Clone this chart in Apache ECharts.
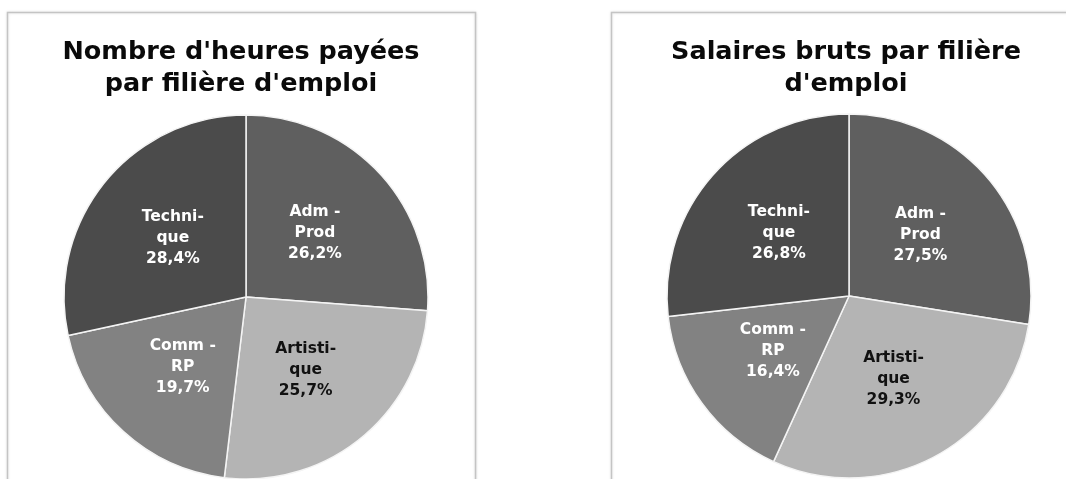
<!DOCTYPE html>
<html>
<head>
<meta charset="utf-8">
<script src="https://cdn.jsdelivr.net/npm/echarts@6/dist/echarts.min.js"></script>
<style>
  html, body { margin: 0; padding: 0; background: #fff; }
  #chart { width: 1066px; height: 479px; }
</style>
</head>
<body>
<div id="chart"></div>
<script>
// filières (ordre horaire depuis midi)
const categories = ["Adm - Prod", "Artistique", "Comm - RP", "Technique"];
const labelNames = ["Adm -\nProd", "Artisti-\nque", "Comm -\nRP", "Techni-\nque"];
const hoursValues = [26.2, 25.7, 19.7, 28.4];
const salaryValues = [27.5, 29.3, 16.4, 26.8];
const titles = ["Nombre d'heures payées\npar filière d'emploi", "Salaires bruts par filière\nd'emploi"];

const sliceColors = ["#5f5f5f", "#b4b4b4", "#828282", "#4b4b4b"];
const labelColors = ["#ffffff", "#111111", "#ffffff", "#ffffff"];
const fontFamily = "DejaVu Sans, Verdana, sans-serif";

const myChart = echarts.init(document.getElementById("chart"));

const buildData = values => values.map((v, i) => ({
	name: categories[i],
	value: v,
	itemStyle: { color: sliceColors[i] },
	label: {
		color: labelColors[i],
		formatter: labelNames[i] + "\n" + v.toFixed(1).replace(".", ",") + "%"
	}
}));

const makePie = (values, center) => ({
	type: "pie",
	radius: 182,
	center: center,
	startAngle: 90,
	clockwise: true,
	silent: true,
	animation: false,
	itemStyle: { borderColor: "#f4f4f4", borderWidth: 1.5 },
	label: {
		show: true,
		position: "inside",
		fontFamily: fontFamily,
		fontWeight: "bold",
		fontSize: 15.5,
		lineHeight: 21,
		align: "center"
	},
	labelLine: { show: false },
	data: buildData(values)
});

const titleStyle = { fontFamily: fontFamily, fontWeight: "bold", fontSize: 25.5, lineHeight: 32, color: "#0a0a0a" };

const option = {
	backgroundColor: "#ffffff",
	title: [
		{ text: titles[0], left: 236, top: 31, textAlign: "center", textStyle: titleStyle },
		{ text: titles[1], left: 841, top: 31, textAlign: "center", textStyle: titleStyle }
	],
	graphic: [
		{
			type: "rect",
			z: -10,
			shape: { x: 7.5, y: 12.5, width: 468, height: 480 },
			style: { fill: "#ffffff", stroke: "#c4c4c4", lineWidth: 1.5, shadowBlur: 3, shadowColor: "rgba(0,0,0,0.12)" }
		},
		{
			type: "rect",
			z: -10,
			shape: { x: 611.5, y: 12.5, width: 470, height: 480 },
			style: { fill: "#ffffff", stroke: "#c4c4c4", lineWidth: 1.5, shadowBlur: 3, shadowColor: "rgba(0,0,0,0.12)" }
		}
	],
	series: [
		makePie(hoursValues, [246, 297]),
		makePie(salaryValues, [849, 296])
	]
};

myChart.setOption(option);
</script>
</body>
</html>
